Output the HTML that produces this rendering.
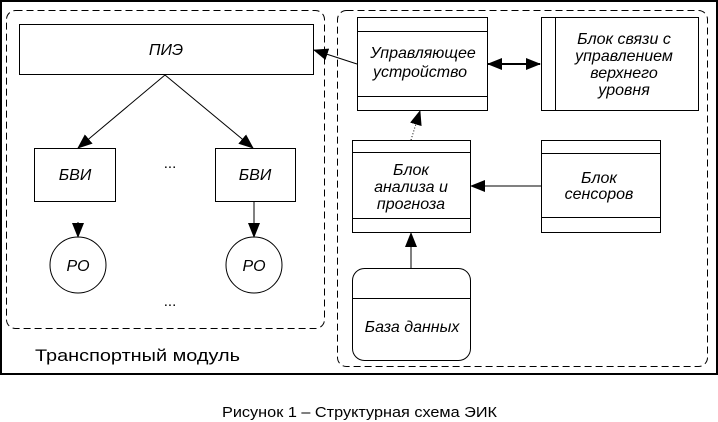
<!DOCTYPE html>
<html><head><meta charset="utf-8"><style>
html,body{margin:0;padding:0;background:#fff;width:718px;height:422px;overflow:hidden}
svg{display:block}
text{font-family:"Liberation Sans",sans-serif;fill:#000}
.i{font-style:italic;font-size:16px}
</style></head><body>
<svg width="718" height="422" viewBox="0 0 718 422">
<defs>
<marker id="a" markerWidth="15" markerHeight="12" refX="14" refY="6" orient="auto" markerUnits="userSpaceOnUse"><path d="M0,0 L15,6 L0,12 z" fill="#000"/></marker>
<marker id="b" markerWidth="15" markerHeight="12" refX="1" refY="6" orient="auto" markerUnits="userSpaceOnUse"><path d="M15,0 L0,6 L15,12 z" fill="#000"/></marker>
</defs>
<rect x="1" y="1" width="716" height="373" fill="none" stroke="#000" stroke-width="2"/>
<rect x="6.5" y="10.5" width="318" height="318" rx="9" fill="none" stroke="#000" stroke-dasharray="7,4"/>
<rect x="337.5" y="10.5" width="370" height="356" rx="9" fill="none" stroke="#000" stroke-dasharray="7,4"/>
<g fill="#fff" stroke="#000">
<rect x="19.5" y="24.5" width="294" height="50"/>
<rect x="34.5" y="148.5" width="81" height="53"/>
<rect x="215.5" y="148.5" width="80" height="53"/>
<circle cx="78" cy="265" r="28"/>
<circle cx="254" cy="265" r="28"/>
<rect x="357.5" y="17.5" width="130" height="93"/>
<rect x="541.5" y="17.5" width="157" height="93"/>
<rect x="352.5" y="140.5" width="118" height="92"/>
<rect x="541.5" y="140.5" width="119" height="92"/>
<rect x="352.5" y="268.5" width="118" height="92" rx="12"/>
</g>
<g stroke="#000" fill="none">
<path d="M357 31.5H487M357 96.5H487M555.5 17V110M352 152.5H470M352 218.5H470M541 153.5H660M541 217.5H660M352 298.5H470"/>
<line x1="165" y1="75" x2="78" y2="148" marker-end="url(#a)"/>
<line x1="165" y1="75" x2="253" y2="148" marker-end="url(#a)"/>
<line x1="78" y1="222" x2="78" y2="237" marker-end="url(#a)"/>
<line x1="254" y1="201" x2="254" y2="237" marker-end="url(#a)"/>
<line x1="357" y1="64" x2="314" y2="50" marker-end="url(#a)"/>
<line x1="488" y1="64" x2="540" y2="64" stroke-width="2" marker-start="url(#b)" marker-end="url(#a)"/>
<line x1="541" y1="186" x2="471" y2="186" marker-end="url(#a)"/>
<line x1="411" y1="268" x2="411" y2="233" marker-end="url(#a)"/>
<line x1="411" y1="140" x2="420" y2="111" stroke-dasharray="1,2" marker-end="url(#a)"/>
</g>
<g class="i" text-anchor="middle">
<text x="166" y="55">ПИЭ</text>
<text x="75" y="180">БВИ</text>
<text x="255" y="180">БВИ</text>
<text x="78" y="271">РО</text>
<text x="254" y="271">РО</text>
<text x="423" y="58">Управляющее</text>
<text x="420" y="77">устройство</text>
<text x="624" y="44">Блок связи с</text>
<text x="624" y="61">управлением</text>
<text x="624" y="78">верхнего</text>
<text x="624" y="95">уровня</text>
<text x="411" y="175">Блок</text>
<text x="411" y="192">анализа и</text>
<text x="411" y="209">прогноза</text>
<text x="599" y="183">Блок</text>
<text x="599" y="199">сенсоров</text>
<text x="412" y="332">База данных</text>
</g>
<text x="170" y="168" font-size="15" text-anchor="middle">...</text>
<text x="170" y="306" font-size="15" text-anchor="middle">...</text>
<text x="35" y="361" font-size="17" textLength="205" lengthAdjust="spacingAndGlyphs">Транспортный модуль</text>
<text x="222" y="417" font-size="15" textLength="275" lengthAdjust="spacingAndGlyphs">Рисунок 1 – Структурная схема ЭИК</text>
</svg>
</body></html>
